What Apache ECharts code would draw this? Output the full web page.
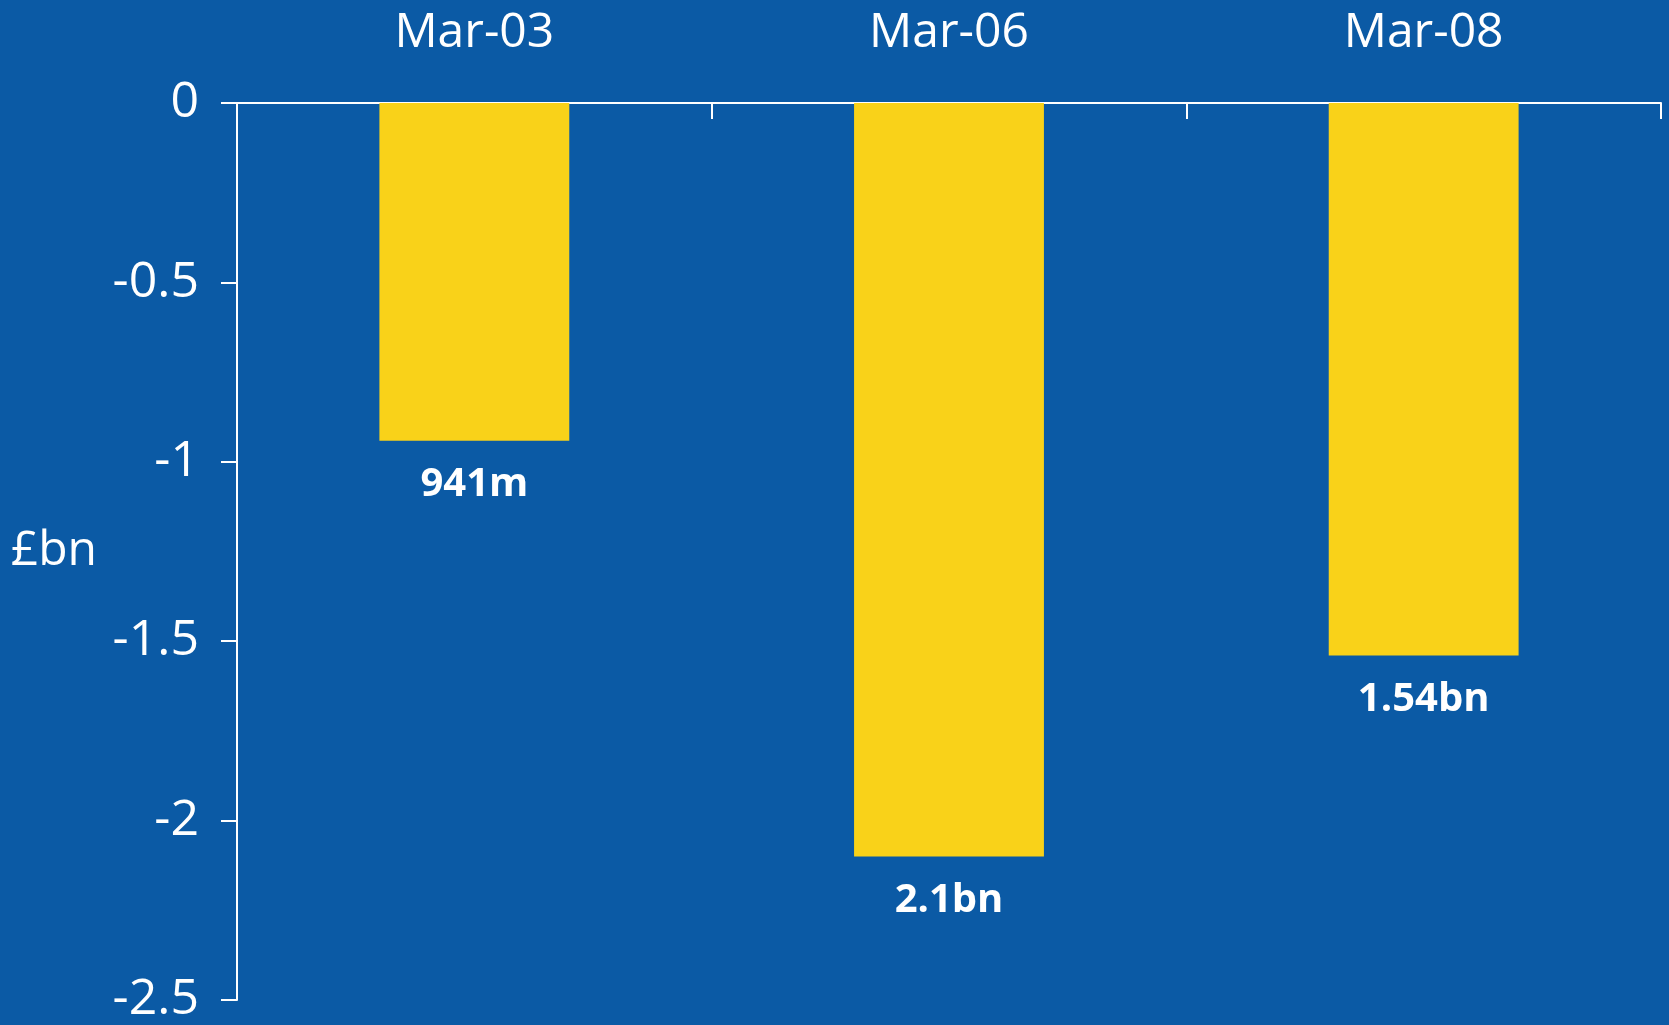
<!DOCTYPE html>
<html>
<head>
<meta charset="utf-8">
<script src="https://cdn.jsdelivr.net/npm/echarts@6/dist/echarts.min.js"></script>
<style>
  html, body { margin: 0; padding: 0; background: #0b5aa5; }
  #chart { width: 1669px; height: 1025px; }
</style>
</head>
<body>
<div id="chart"></div>
<script>
// Periods shown along the top axis
const periods = ['Mar-03', 'Mar-06', 'Mar-08'];
// Change in £bn for each period
const changeBn = [-0.941, -2.1, -1.54];
// Text printed under each bar
const barLabels = ['941m', '2.1bn', '1.54bn'];
// Value axis range and step (£bn)
const axisMin = -2.5;
const axisMax = 0;
const axisStep = 0.5;

const white = '#ffffff';
const font = '"Open Sans", "DejaVu Sans", sans-serif';

const chart = echarts.init(document.getElementById('chart'), null, { renderer: 'canvas' });

chart.setOption({
  backgroundColor: '#0b5aa5',
  animation: false,
  grid: { left: 237, right: 8, top: 103, bottom: 24, containLabel: false },
  xAxis: {
    type: 'category',
    data: periods,
    position: 'top',
    axisLine: { show: true, onZero: true, lineStyle: { color: white, width: 2 } },
    axisTick: { show: true, inside: true, length: 16, lineStyle: { color: white, width: 2 } },
    axisLabel: { color: white, fontFamily: font, fontSize: 48, margin: 46 },
    splitLine: { show: false }
  },
  yAxis: {
    type: 'value',
    min: axisMin,
    max: axisMax,
    interval: axisStep,
    name: '£bn',
    nameLocation: 'middle',
    nameRotate: 0,
    nameGap: 140,
    nameTextStyle: { color: white, fontFamily: font, fontSize: 48, padding: [14, 0, 0, 0] },
    axisLine: { show: true, lineStyle: { color: white, width: 2 } },
    axisTick: { show: true, length: 16, lineStyle: { color: white, width: 2 } },
    axisLabel: { color: white, fontFamily: font, fontSize: 50, margin: 38, padding: [8, 0, 0, 0] },
    splitLine: { show: false }
  },
  series: [{
    type: 'bar',
    data: changeBn,
    barWidth: '40%',
    itemStyle: { color: '#f9d219' },
    label: {
      show: true,
      position: 'bottom',
      distance: 24,
      color: white,
      fontFamily: font,
      fontWeight: 'bold',
      fontSize: 40,
      formatter: (p) => barLabels[p.dataIndex]
    }
  }]
});
</script>
</body>
</html>
